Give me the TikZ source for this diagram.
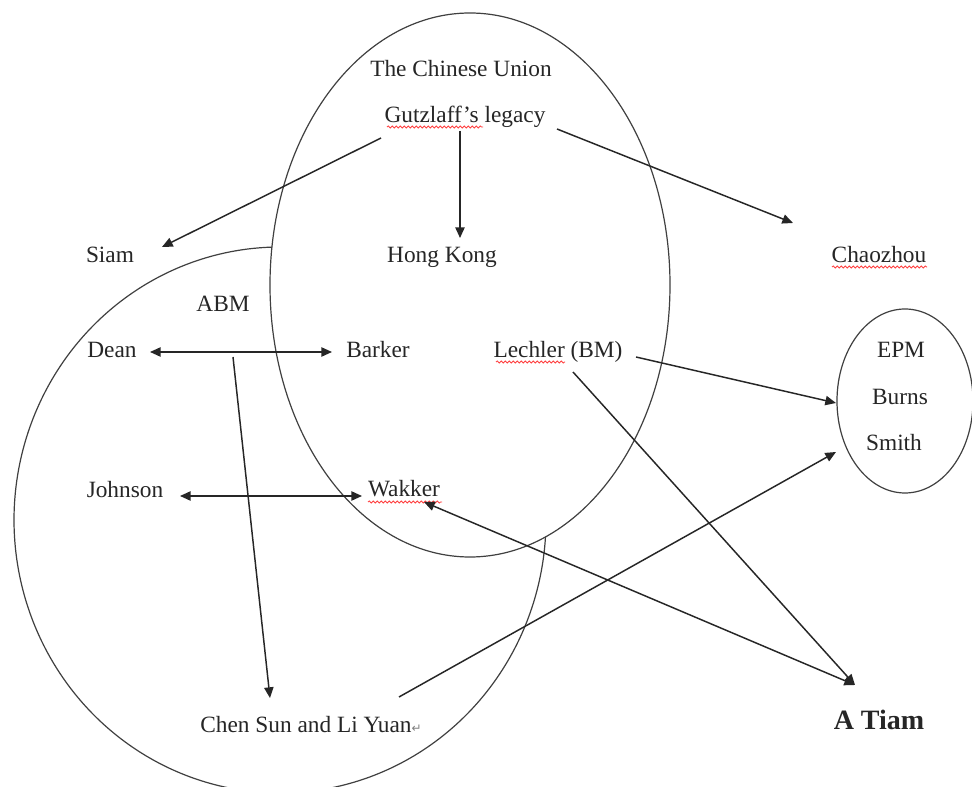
\documentclass[tikz,border=0pt]{standalone}
\usepackage{fontspec}
\setmainfont{Liberation Serif}
\newfontfamily\symfont{DejaVu Sans}
\usetikzlibrary{arrows.meta,shapes.geometric,decorations.pathmorphing}
\begin{document}
\begin{tikzpicture}[x=0.75pt,y=-0.75pt,
  lbl/.style={anchor=base,inner sep=0pt,font=\fontsize{17.5}{20}\selectfont,text=black!85},
  conn/.style={line width=1.1pt,draw=black!85,-{Triangle[length=8pt,width=7pt]}},
  both/.style={conn,{Triangle[length=8pt,width=7pt]}-{Triangle[length=8pt,width=7pt]}},
  ring/.style={draw=black!75,line width=0.9pt},
  wavy/.style={draw=red!75,line width=0.6pt,decorate,decoration={snake,amplitude=0.8pt,segment length=3pt}}]
\useasboundingbox (0,0) rectangle (972,787);
\fill[white] (0,0) rectangle (972,787);

% circles
\node[ellipse,ring,minimum width=300pt,minimum height=408pt,inner sep=0pt] (cu) at (470,285) {};
\node[ellipse,ring,minimum width=102pt,minimum height=138pt,inner sep=0pt] (epmc) at (905,401) {};
\draw[ring] plot[domain=3.6:268.3,samples=200,smooth] ({280+266*cos(\x)},{520+273*sin(\x)});

% labels
\node[lbl] (union) at (461,77) {The Chinese Union};
\node[lbl] (gutz) at (465,123) {Gutzlaff’s legacy};
\node[lbl] (hk) at (442,263) {Hong Kong};
\node[lbl] (siam) at (110,263) {Siam};
\node[lbl] (chao) at (879,263) {Chaozhou};
\node[lbl] (abm) at (223,312) {ABM};
\node[lbl] (dean) at (112,358) {Dean};
\node[lbl] (barker) at (378,358) {Barker};
\node[lbl] (lechler) at (558,358) {Lechler (BM)};
\node[lbl] (epm) at (901,358) {EPM};
\node[lbl] (burns) at (900,405) {Burns};
\node[lbl] (smith) at (894,451) {Smith};
\node[lbl] (johnson) at (125,498) {Johnson};
\node[lbl] (wakker) at (404,497) {Wakker};
\node[lbl] (chen) at (311,733) {Chen Sun and Li Yuan{\symfont\fontsize{9}{10}\selectfont\textcolor{black!50}{↵}}};
\node[lbl,font=\fontsize{21}{24}\selectfont\bfseries] (atiam) at (879,730) {A Tiam};

% spell-check underlines
\draw[wavy] ([shift={(-78,4)}]gutz.base) -- ([shift={(18,4)}]gutz.base);
\draw[wavy] ([shift={(-62,4)}]lechler.base) -- ([shift={(7,4)}]lechler.base);
\draw[wavy] ([shift={(-36,5)}]wakker.base) -- ([shift={(38,5)}]wakker.base);
\draw[wavy] ([shift={(-47,4)}]chao.base) -- ([shift={(48,4)}]chao.base);

% connectors
\draw[conn] ([shift={(-84,15)}]gutz.base) -- ([shift={(52,-16)}]siam.base);
\draw[conn] ([shift={(-5,8)}]gutz.base) -- ([shift={(18,-25)}]hk.base);
\draw[conn] ([shift={(92,6)}]gutz.base) -- ([shift={(-86,-40)}]chao.base);
\draw[both] ([shift={(38,-6)}]dean.base) -- ([shift={(-46,-6)}]barker.base);
\draw[both] ([shift={(55,-2)}]johnson.base) -- ([shift={(-42,-1)}]wakker.base);
\draw[conn] ([shift={(10,45)}]abm.base) -- ([shift={(-41,-35)}]chen.base);
\draw[conn] ([shift={(78,-1)}]lechler.base) -- ([shift={(-69,2)}]epmc.center);
\draw[conn] ([shift={(15,14)}]lechler.base) -- ([shift={(-24,-45)}]atiam.base);
\draw[both] ([shift={(20,5)}]wakker.base) -- ([shift={(-24,-45)}]atiam.base);
\draw[conn] ([shift={(88,-36)}]chen.base) -- ([shift={(-69,51)}]epmc.center);
\end{tikzpicture}
\end{document}
